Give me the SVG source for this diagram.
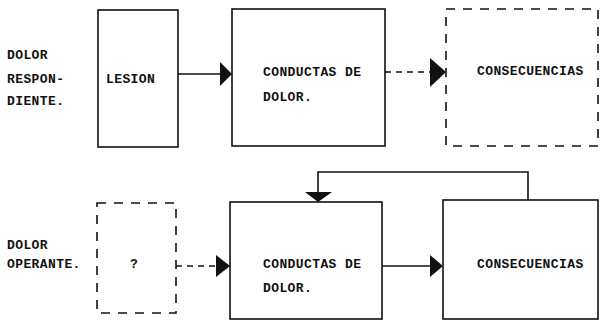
<svg xmlns="http://www.w3.org/2000/svg" width="600" height="323" viewBox="0 0 600 323">
<style>
text{font-family:"Liberation Mono","DejaVu Sans Mono",monospace;font-size:13px;font-weight:bold;fill:#111;letter-spacing:0.4px}
.box{fill:none;stroke:#111;stroke-width:1.6}
.dash{fill:none;stroke:#111;stroke-width:1.6;stroke-dasharray:9,8}
.ln{fill:none;stroke:#111;stroke-width:1.6}
.dln{fill:none;stroke:#111;stroke-width:1.6;stroke-dasharray:6,5}
.ah{fill:#111}
</style>
<g id="labels">
<text x="7" y="59">DOLOR</text>
<text x="7" y="83">RESPON-</text>
<text x="7" y="105">DIENTE.</text>
<text x="7" y="249">DOLOR</text>
<text x="7" y="268">OPERANTE.</text>
</g>
<g id="lesion"><rect class="box" x="98" y="10" width="80" height="137"/><text x="106" y="83">LESION</text></g>
<g id="conductas1"><rect class="box" x="232" y="9" width="153" height="137"/><text x="263" y="76">CONDUCTAS DE</text><text x="263" y="101">DOLOR.</text></g>
<g id="consecuencias1"><rect class="dash" x="446" y="9" width="152" height="137"/><text x="477" y="75">CONSECUENCIAS</text></g>
<g id="unknown"><rect class="dash" x="97" y="203" width="79" height="110"/><text x="130" y="268">?</text></g>
<g id="conductas2"><rect class="box" x="230" y="202" width="152" height="117"/><text x="263" y="268">CONDUCTAS DE</text><text x="263" y="292">DOLOR.</text></g>
<g id="consecuencias2"><rect class="box" x="443" y="200" width="155" height="119"/><text x="477" y="268">CONSECUENCIAS</text></g>
<g id="connectors">
<line class="ln" x1="178" y1="74" x2="221" y2="74"/>
<polygon class="ah" points="220,62 232,74 220,86"/>
<line class="dln" x1="385" y1="72" x2="432" y2="72"/>
<polygon class="ah" points="430,58 446,72 430,87"/>
<line class="dln" x1="176" y1="266" x2="217" y2="266"/>
<polygon class="ah" points="216,255 230,266 216,277"/>
<line class="ln" x1="382" y1="266" x2="430" y2="266"/>
<polygon class="ah" points="430,255 443,266 430,277"/>
<polyline class="ln" points="528,200 528,172 318,172 318,194"/>
<polygon class="ah" points="305,192 332,192 318,202"/>
</g>
</svg>
